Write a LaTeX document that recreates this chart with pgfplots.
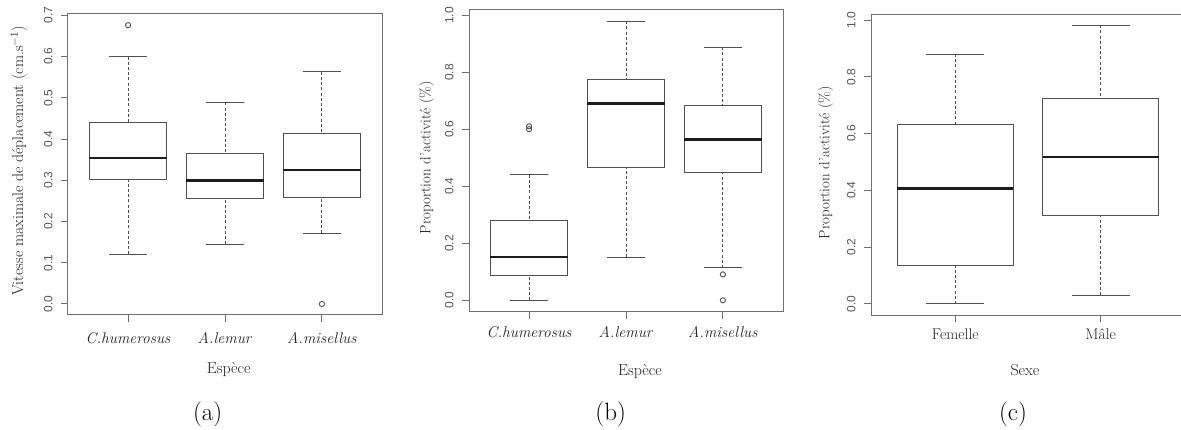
\documentclass[border=0pt]{standalone}
\usepackage{fontspec}
\newfontfamily\arial{Liberation Sans}
\usepackage{pgfplots}
\pgfplotsset{compat=1.18}
\usepgfplotslibrary{statistics}
\definecolor{framegray}{HTML}{707070}
\definecolor{boxgray}{HTML}{505050}
\definecolor{tickgray}{HTML}{555555}
\definecolor{medblack}{HTML}{1C1C1C}
\definecolor{labblack}{HTML}{222222}
\pgfplotsset{
  boxplot/draw direction=y,
  boxplot/draw/lower whisker/.code={%
    \draw[dash pattern=on 3pt off 2.2pt] (boxplot cs:\pgfplotsboxplotvalue{lower whisker}) -- (boxplot cs:\pgfplotsboxplotvalue{lower quartile});
    \draw (boxplot whisker cs:\pgfplotsboxplotvalue{lower whisker},0) -- (boxplot whisker cs:\pgfplotsboxplotvalue{lower whisker},1);
  },
  boxplot/draw/upper whisker/.code={%
    \draw[dash pattern=on 3pt off 2.2pt] (boxplot cs:\pgfplotsboxplotvalue{upper whisker}) -- (boxplot cs:\pgfplotsboxplotvalue{upper quartile});
    \draw (boxplot whisker cs:\pgfplotsboxplotvalue{upper whisker},0) -- (boxplot whisker cs:\pgfplotsboxplotvalue{upper whisker},1);
  },
  boxplot/draw/median/.code={%
    \draw[line width=2.8pt, medblack] (boxplot box cs:\pgfplotsboxplotvalue{median},0) -- (boxplot box cs:\pgfplotsboxplotvalue{median},1);
  },
  rpanel/.style={
    scale only axis, width=314pt,
    axis line style={framegray, line width=1pt},
    tick align=outside, major tick length=7pt,
    tick style={framegray, line width=1pt},
    xtick pos=left, ytick pos=left,
    yticklabel style={rotate=90, yshift=5pt, anchor=south, font=\arial\fontsize{12}{12}\selectfont, text=tickgray,
      /pgf/number format/fixed, /pgf/number format/fixed zerofill, /pgf/number format/precision=1,
      /pgf/number format/assume math mode=true},
    xticklabel style={font=\fontsize{15.5}{16}\selectfont, text=labblack},
  },
  rbox/.style={
    boxplot/draw direction=y,
    draw=boxgray, line width=1pt, solid,
    mark=o, mark size=2.6pt, mark options={solid, line width=0.9pt, draw=boxgray},
    boxplot/box extend=0.8, boxplot/whisker extend=0.4,
  },
}
\begin{document}
\begin{tikzpicture}
\useasboundingbox (0,0) rectangle (1181pt,430pt);
\clip (0,0) rectangle (1181pt,430pt);
% ---------------- (a)
\begin{axis}[rpanel, at={(68pt,115pt)}, anchor=south west, height=301pt,
  xmin=0.38, xmax=3.62, ymin=-0.0267, ymax=0.7032,
  xticklabel style={yshift=-7pt},
  xtick={1,2,3}, xticklabels={\textit{C.humerosus},\textit{A.lemur},\textit{A.misellus}},
  ytick={0,0.1,0.2,0.3,0.4,0.5,0.6,0.7}]
\addplot[rbox, boxplot prepared={draw position=1, lower whisker=0.120, lower quartile=0.303, median=0.354, upper quartile=0.441, upper whisker=0.600}] coordinates {(0,0.676)};
\addplot[rbox, boxplot prepared={draw position=2, lower whisker=0.145, lower quartile=0.255, median=0.300, upper quartile=0.364, upper whisker=0.489}] coordinates {};
\addplot[rbox, boxplot prepared={draw position=3, lower whisker=0.171, lower quartile=0.259, median=0.325, upper quartile=0.414, upper whisker=0.563}] coordinates {(0,0.0)};
\end{axis}
% ---------------- (b)
\begin{axis}[rpanel, at={(469pt,118.3pt)}, anchor=south west, height=301.7pt,
  xmin=0.38, xmax=3.62, ymin=-0.040, ymax=1.0197,
  xticklabel style={yshift=-4pt},
  xtick={1,2,3}, xticklabels={\textit{C.humerosus},\textit{A.lemur},\textit{A.misellus}},
  ytick={0,0.2,0.4,0.6,0.8,1.0}]
\addplot[rbox, boxplot prepared={draw position=1, lower whisker=0.0, lower quartile=0.0865, median=0.152, upper quartile=0.281, upper whisker=0.441}] coordinates {(0,0.601) (0,0.611)};
\addplot[rbox, boxplot prepared={draw position=2, lower whisker=0.152, lower quartile=0.467, median=0.692, upper quartile=0.774, upper whisker=0.980}] coordinates {};
\addplot[rbox, boxplot prepared={draw position=3, lower whisker=0.1135, lower quartile=0.4506, median=0.5655, upper quartile=0.685, upper whisker=0.889}] coordinates {(0,0.091) (0,0.0)};
\end{axis}
% ---------------- (c)
\begin{axis}[rpanel, at={(871pt,114.7pt)}, anchor=south west, height=301pt,
  xmin=0.42, xmax=2.58, ymin=-0.0398, ymax=1.0201,
  xticklabel style={yshift=-3pt},
  xtick={1,2}, xticklabels={Femelle,Mâle},
  ytick={0,0.2,0.4,0.6,0.8,1.0}]
\addplot[rbox, boxplot prepared={draw position=1, lower whisker=0.0, lower quartile=0.135, median=0.407, upper quartile=0.631, upper whisker=0.880}] coordinates {};
\addplot[rbox, boxplot prepared={draw position=2, lower whisker=0.0306, lower quartile=0.310, median=0.5176, upper quartile=0.725, upper whisker=0.982}] coordinates {};
\end{axis}
% ---------------- labels
\begin{scope}[every node/.style={text=labblack}]
\node[font=\fontsize{16}{16}\selectfont] at (228.7pt,61pt) {Espèce};
\node[font=\fontsize{15.7}{16}\selectfont, rotate=90] at (19pt,269pt) {Vitesse maximale de déplacement (cm.s$^{-1}$)};
\node[font=\fontsize{16}{16}\selectfont] at (640pt,59pt) {Espèce};
\node[font=\fontsize{15}{15}\selectfont, rotate=90] at (426.7pt,272pt) {Proportion d'activité (\%)};
\node[font=\fontsize{16}{16}\selectfont] at (1025pt,60pt) {Sexe};
\node[font=\fontsize{15}{15}\selectfont, rotate=90] at (825.7pt,267pt) {Proportion d'activité (\%)};
\node[font=\fontsize{25}{25}\selectfont, text=black] at (207.7pt,16pt) {(a)};
\node[font=\fontsize{25}{25}\selectfont, text=black] at (610.7pt,16pt) {(b)};
\node[font=\fontsize{25}{25}\selectfont, text=black] at (1013pt,16pt) {(c)};
\end{scope}
\end{tikzpicture}
\end{document}
